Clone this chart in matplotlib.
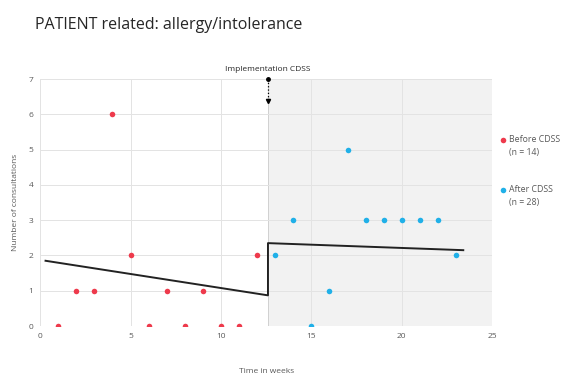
import matplotlib
matplotlib.use('Agg')
import matplotlib.pyplot as plt
from matplotlib.patches import Rectangle
from matplotlib.lines import Line2D

plt.rcParams['font.family'] = ['Open Sans', 'DejaVu Sans']

# data
weeks_before = [1, 2, 3, 4, 5, 6, 7, 8, 9, 10, 11, 12]
cons_before = [0, 1, 1, 6, 2, 0, 1, 0, 1, 0, 0, 2]
weeks_after = [13, 14, 15, 16, 17, 18, 19, 20, 21, 22, 23]
cons_after = [2, 3, 0, 1, 5, 3, 3, 3, 3, 3, 2]

# segmented regression line (x, y)
trend_x = [0.3, 12.6, 12.6, 23.4]
trend_y = [1.85, 0.87, 2.35, 2.15]
implementation_week = 12.6

legend_labels = ['Before CDSS', 'After CDSS']
legend_n = ['(n = 14)', '(n = 28)']

red = '#ee3a4c'
blue = '#20b0e8'
grid_col = '#e3e3e3'
txt_col = '#595959'

fig = plt.figure(figsize=(5.73, 3.8), dpi=100)
fig.text(0.061, 0.935, 'PATIENT related: allergy/intolerance', fontsize=11.5,
         color='#262626', va='center', ha='left')

ax = fig.add_axes([0.070, 0.142, 0.789, 0.650])
ax.set_xlim(0, 25)
ax.set_ylim(0, 7)

# shaded post-implementation area
ax.add_patch(Rectangle((implementation_week, 0), 25 - implementation_week, 7,
                       facecolor='#f2f2f2', edgecolor='#d0d0d0', lw=0.7, zorder=0))

ax.set_xticks([0, 5, 10, 15, 20, 25])
ax.set_yticks(range(8))
ax.grid(True, color=grid_col, lw=0.7, zorder=1)
ax.set_axisbelow(True)
for s in ax.spines.values():
    s.set_visible(False)
ax.tick_params(length=0, labelsize=6, colors=txt_col, pad=5)

ax.plot(trend_x, trend_y, color='#222222', lw=1.4, zorder=3)

ax.plot(weeks_before, cons_before, 'o', color=red, ms=4, mec='none', zorder=4)
ax.plot(weeks_after, cons_after, 'o', color=blue, ms=4, mec='none', zorder=4)

# implementation marker
ax.plot([implementation_week, implementation_week], [7, 6.35], ls=':', color='black',
        lw=0.9, zorder=5, clip_on=False)
ax.plot([implementation_week], [7], marker='o', color='black', ms=2.5, zorder=5, clip_on=False)
ax.plot([implementation_week], [6.38], marker='v', color='black', ms=3, zorder=5, clip_on=False)
ax.text(implementation_week, 7.18, 'Implementation CDSS', ha='center', va='bottom',
        fontsize=6, color='#262626')

ax.set_xlabel('Time in weeks', fontsize=6, color=txt_col, labelpad=20)
ax.set_ylabel('Number of consultations', fontsize=6, color=txt_col, labelpad=7)

# manual legend on the right
for i, (lab, n, col) in enumerate(zip(legend_labels, legend_n, [red, blue])):
    y0 = 0.632 - i * 0.132
    fig.add_artist(Line2D([0.878], [y0], marker='o', color=col, ms=4, mec='none'))
    fig.text(0.889, y0, lab, fontsize=6.3, color=txt_col, va='center', ha='left')
    fig.text(0.889, y0 - 0.032, n, fontsize=6.3, color=txt_col, va='center', ha='left')

fig.savefig('out.png', dpi=100)
